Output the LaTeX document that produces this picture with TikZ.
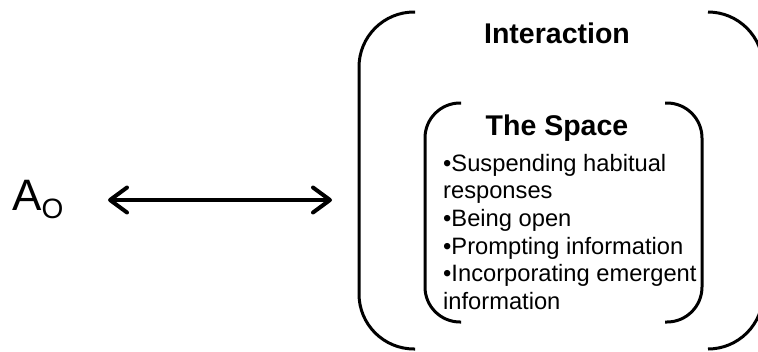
\documentclass[tikz,border=0pt]{standalone}
\usepackage{fontspec}
\setmainfont{Liberation Sans}
\usetikzlibrary{arrows.meta}
\begin{document}
\begin{tikzpicture}[x=1pt,y=-1pt,
  bracket/.style={line width=3pt},
  title/.style={anchor=base,inner sep=0pt,font=\fontsize{28.5}{30}\selectfont\bfseries},
  items/.style={anchor=north west,inner sep=0pt,align=left,font=\fontsize{23.7}{27.6}\selectfont},
  link/.style={line width=4pt,{Straight Barb[length=17pt,width=25pt,round]}-{Straight Barb[length=17pt,width=25pt,round]}}]
  \useasboundingbox (0,0) rectangle (758,351);
  \clip (0,0) rectangle (758,351);
  % outer brackets
  \draw[bracket,rounded corners=55pt] (415,12) -- (359,12) -- (359,349) -- (415,349);
  \draw[bracket,rounded corners=55pt] (708,12) -- (763,12) -- (763,349) -- (708,349);
  % inner brackets
  \draw[bracket,rounded corners=35pt] (461,103) -- (425,103) -- (425,322) -- (461,322);
  \draw[bracket,rounded corners=35pt] (665,103) -- (702,103) -- (702,322) -- (665,322);
  % texts
  \node[title] (inter) at (557,43) {Interaction};
  \node[title] (space) at (557,135) {The Space};
  \node[items] (list) at (443,154) {•Suspending habitual\\responses\\•Being open\\•Prompting information\\•Incorporating emergent\\information};
  \node[anchor=base west,inner sep=0pt,font=\fontsize{44}{46}\selectfont] (ao) at (12,210)
    {A\raisebox{-8pt}{\fontsize{28}{30}\selectfont O}};
  % double arrow
  \coordinate (aleft) at (108,200);
  \coordinate (aright) at (332,200);
  \draw[link] (aleft) -- (aright);
\end{tikzpicture}
\end{document}
